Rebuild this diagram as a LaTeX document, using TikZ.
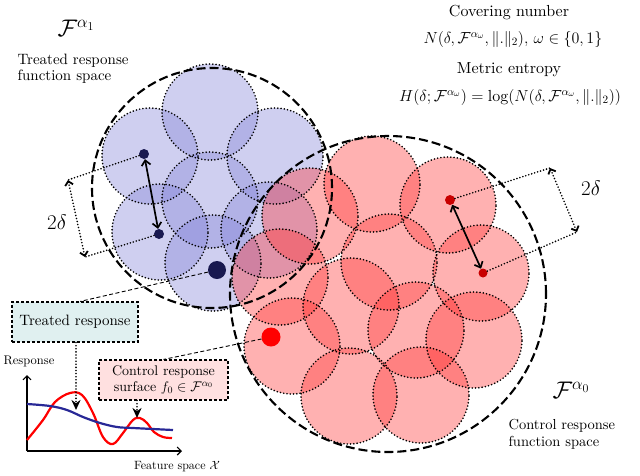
\RequirePackage{fix-cm}
\documentclass[tikz,border=0pt]{standalone}
\usepackage{amsmath,amssymb}
\usepackage{fontspec}
\setmainfont{lmroman10-regular}[Extension=.otf, ItalicFont=lmroman10-italic, BoldFont=lmroman10-bold]
\usetikzlibrary{arrows.meta}
\definecolor{bcov}{RGB}{130,130,215}
\definecolor{rcov}{RGB}{255,50,50}
\definecolor{navy}{RGB}{25,25,80}
\definecolor{dred}{RGB}{200,0,0}
\definecolor{bcurve}{RGB}{40,40,150}
\definecolor{tboxc}{RGB}{224,240,240}
\definecolor{cboxc}{RGB}{255,224,224}
\tikzset{
  bball/.style={fill=bcov, fill opacity=0.38},
  rball/.style={fill=rcov, fill opacity=0.38},
  ballrim/.style={draw=black, line width=1.8pt, dash pattern=on 0pt off 3.3pt, line cap=round},
  bigrim/.style={draw=black, line width=2.1pt, dash pattern=on 9pt off 4pt},
  sdot/.style={circle, inner sep=0pt, minimum size=#1},
  dblarrow/.style={line width=1.7pt, {Straight Barb[length=5pt,width=9pt]}-{Straight Barb[length=5pt,width=9pt]}},
  dimline/.style={line width=1.8pt, dash pattern=on 0pt off 3.1pt, line cap=round},
  dimarrow/.style={dimline, {Straight Barb[length=4pt,width=8pt]}-{Straight Barb[length=4pt,width=8pt]}},
  leader/.style={line width=0.9pt, dash pattern=on 4pt off 2.5pt},
  lbox/.style={draw=black, line width=1.1pt, dash pattern=on 3pt off 2pt, align=center, inner sep=2pt},
  downarrow/.style={line width=1.8pt, dash pattern=on 0pt off 3.1pt, line cap=round, -{Stealth[length=10pt,width=9pt]}},
  axis/.style={line width=1.1pt, -{Straight Barb[length=4pt,width=8pt]}},
  curve/.style={line width=2.2pt, smooth, tension=0.6},
}
\begin{document}
\begin{tikzpicture}[x=1pt,y=-1pt]
\useasboundingbox (0,0) rectangle (640,475);

% ---- blue cover balls
\foreach \p in {(210,112),(150,156),(275,156),(210,200),(160,232),(269,230),(213,263)}
  \path[bball] \p circle[radius=48pt];
% ---- red cover balls
\foreach \p in {(372,184),(448,205),(481,273),(389,262),(310,216),(280,277),(292,346),(351,306),(416,330),(474,340),(349,396),(421,395)}
  \path[rball] \p circle[radius=48pt];
% ---- rims
\foreach \p in {(210,112),(150,156),(275,156),(210,200),(160,232),(269,230),(213,263),
  (372,184),(448,205),(481,273),(389,262),(310,216),(280,277),(292,346),(351,306),(416,330),(474,340),(349,396),(421,395)}
  \path[ballrim] \p circle[radius=48pt];
% ---- function spaces
\path[bigrim] (212,188) circle[radius=120pt];
\path[bigrim] (388,294) circle[radius=158pt];

% ---- dots
\node[sdot=10pt, fill=navy] (b1) at (144,154) {};
\node[sdot=10pt, fill=navy] (b2) at (159,234) {};
\node[sdot=18pt, fill=navy] (bt) at (217,270) {};
\node[sdot=10pt, fill=dred] (r1) at (450,200) {};
\node[sdot=9pt, fill=dred] (r2) at (483,273) {};
\node[sdot=19pt, fill=red] (rt) at (271,337) {};

% ---- 2 delta markers
\draw[dblarrow] (b1) -- (b2);
\draw[dblarrow] (r1) -- (r2);
\coordinate (cb1) at (68,180);
\coordinate (cb2) at (85,257);
\coordinate (cr1) at (550,168);
\coordinate (cr2) at (577,232);
\draw[dimline] (b1) -- (cb1);
\draw[dimline] (b2) -- (cb2);
\draw[dimarrow] (cb1) -- (cb2);
\draw[dimline] (r1) -- (cr1);
\draw[dimline] (r2) -- (cr2);
\draw[dimarrow] (cr1) -- (cr2);
\node[font=\fontsize{21}{24}\selectfont] (d1) at (57,222) {$2\delta$};
\node[font=\fontsize{21}{24}\selectfont] (d2) at (591,188) {$2\delta$};

% ---- labels
\node[font=\fontsize{24}{28}\selectfont] (fa1) at (76,28) {$\mathcal{F}^{\alpha_1}$};
\node[anchor=west, align=left, font=\fontsize{15}{16}\selectfont] (tlab) at (14,69) {Treated response\\function space};
\node[font=\fontsize{24}{28}\selectfont] (fa0) at (571,390) {$\mathcal{F}^{\alpha_0}$};
\node[anchor=west, align=left, font=\fontsize{14.5}{17}\selectfont] (clab) at (505,434) {Control response\\function space};

\node[font=\fontsize{16}{19}\selectfont] (cov) at (509,13) {Covering number};
\node[font=\fontsize{16}{19}\selectfont] (covf) at (513,39) {$N(\delta,\mathcal{F}^{\alpha_\omega},\|.\|_2),\,\omega\in\{0,1\}$};
\node[font=\fontsize{16}{19}\selectfont] (ent) at (509,70) {Metric entropy};
\node[font=\fontsize{16}{19}\selectfont] (entf) at (510,97) {$H(\delta;\mathcal{F}^{\alpha_\omega})=\log(N(\delta,\mathcal{F}^{\alpha_\omega},\|.\|_2))$};

% ---- boxes
\node[lbox, fill=tboxc, minimum width=126pt, minimum height=40pt, font=\fontsize{15}{17}\selectfont] (tr) at (75,322) {Treated response};
\node[lbox, fill=cboxc, minimum width=129pt, minimum height=40pt, inner sep=1pt, font=\fontsize{14}{16.5}\selectfont] (ctl) at (163.5,380) {Control response\\surface $f_0\in\mathcal{F}^{\alpha_0}$};
\draw[leader] (bt) -- ([xshift=5pt]tr.north);
\draw[leader] (rt) -- (ctl.north);

% ---- response plot
\coordinate (o) at (27,451);
\coordinate (ytop) at (27,375);
\coordinate (xend) at (182,451);
\draw[axis] (o) -- (ytop);
\draw[axis] (o) -- (xend);
\node[font=\fontsize{12.5}{14}\selectfont] (ylab) at (29,361) {Response};
\node[font=\fontsize{12}{14}\selectfont] (xlab) at (177,467) {Feature space $\mathcal{X}$};
\draw[curve, red] plot coordinates {(27,440) (43,420) (55,402) (70,393) (82,395) (93,413) (103,437) (113,444) (123,433) (133,420) (140,418) (147,423) (154,432) (163,437) (172,438)};
\draw[curve, bcurve] plot coordinates {(27,404) (50,406) (67,410) (83,417) (100,423) (117,427) (133,428) (173,430)};
\coordinate (bpt) at (76,410);
\coordinate (rpk) at (137,418);
\draw[downarrow] (tr.south -| bpt) -- (bpt);
\draw[downarrow] (ctl.south -| rpk) -- (rpk);
\end{tikzpicture}
\end{document}
